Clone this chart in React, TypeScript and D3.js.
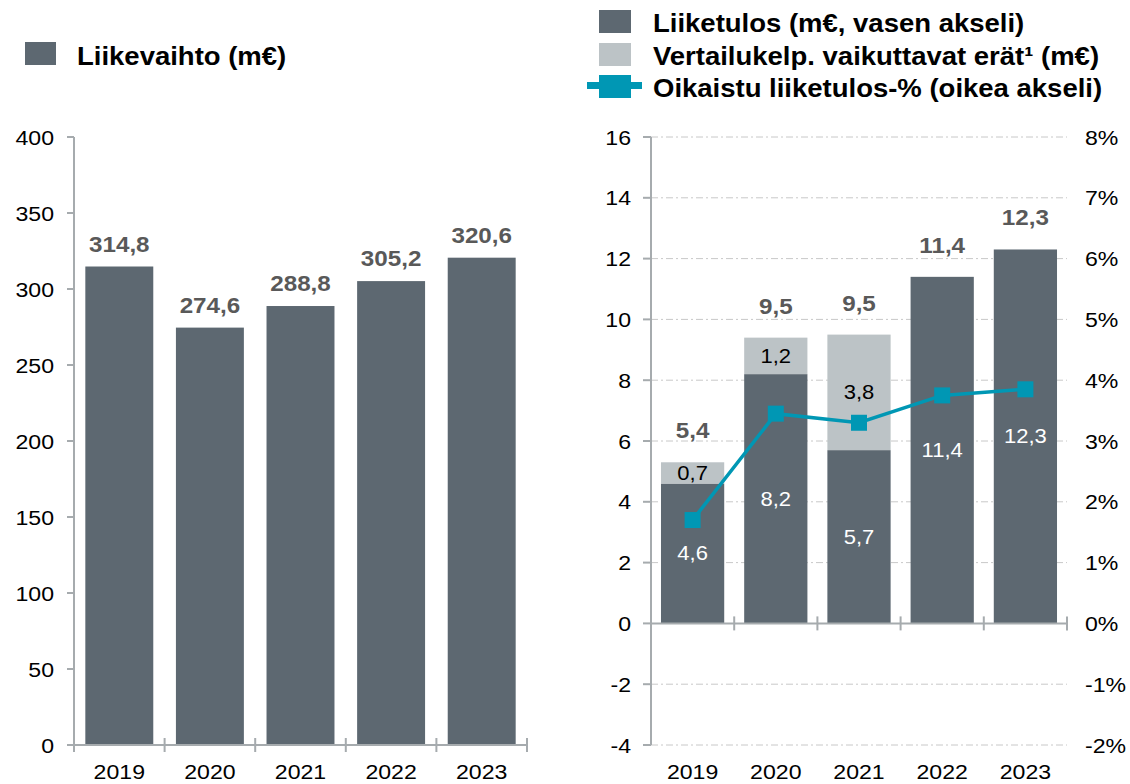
import React from "react";
import * as d3 from "d3";

const years = ["2019", "2020", "2021", "2022", "2023"];
const revenue = [314.8, 274.6, 288.8, 305.2, 320.6];
const operatingProfit = [4.6, 8.2, 5.7, 11.4, 12.3];
const comparabilityItems = [0.7, 1.2, 3.8, 0, 0];
const totalLabels = [5.4, 9.5, 9.5, 11.4, 12.3];
const adjustedPct = [1.7, 3.45, 3.3, 3.75, 3.85];
const leftTicks = [0, 50, 100, 150, 200, 250, 300, 350, 400];
const rightTicks = [-4, -2, 0, 2, 4, 6, 8, 10, 12, 14, 16];
const pctTicks = [-2, -1, 0, 1, 2, 3, 4, 5, 6, 7, 8];

const DARK = "#5d6871";
const LIGHT = "#bcc3c6";
const TEAL = "#0097b4";
const AXIS = "#a6abae";
const GRID = "#c8c8c8";
const LABEL_GRAY = "#595959";
const SX = 1.1;
const FONT = "'Liberation Sans', Arial, Helvetica, sans-serif";

const fmt = (v: number) => d3.format(".1f")(v).replace(".", ",");

function T({ x, y, children, anchor = "middle", size = 21, weight = "normal", fill = "#000" }: any) {
  return (
    <text
      transform={`translate(${x},${y}) scale(${SX},1)`}
      textAnchor={anchor}
      fontSize={size}
      fontWeight={weight}
      fill={fill}
      fontFamily={FONT}
    >
      {children}
    </text>
  );
}

export default function App() {
  // Left chart
  const xL = d3.scaleBand<string>().domain(years).range([74, 527]).paddingInner(0.25).paddingOuter(0.125);
  const yL = d3.scaleLinear().domain([0, 400]).range([745, 137]);
  const stepL = xL.step();
  const boundsL = d3.range(years.length + 1).map((i) => 74 + i * stepL);

  // Right chart
  const xR = d3.scaleBand<string>().domain(years).range([651, 1067]).paddingInner(0.24).paddingOuter(0.12);
  const yR = d3.scaleLinear().domain([-4, 16]).range([745, 137]);
  const yP = d3.scaleLinear().domain([-2, 8]).range([745, 137]);
  const stepR = xR.step();
  const boundsR = d3.range(years.length + 1).map((i) => 651 + i * stepR);

  const line = d3
    .line<number>()
    .x((_, i) => (xR(years[i]) as number) + xR.bandwidth() / 2)
    .y((d) => yP(d));

  return (
    <svg width={1130} height={784} style={{ position: "absolute", left: 0, top: 0, background: "#fff" }}>
      {/* Left legend */}
      <rect x={25} y={42} width={31} height={23} fill={DARK} />
      <T x={77} y={65} anchor="start" size={25} weight="bold">Liikevaihto (m€)</T>

      {/* Right legend */}
      <rect x={599} y={10} width={32} height={23} fill={DARK} />
      <T x={653} y={32} anchor="start" size={25} weight="bold">Liiketulos (m€, vasen akseli)</T>
      <rect x={599} y={43} width={32} height={23} fill={LIGHT} />
      <T x={653} y={65} anchor="start" size={25} weight="bold">
        Vertailukelp. vaikuttavat erät¹ (m€)
      </T>
      <rect x={587} y={82} width={55} height={7} fill={TEAL} />
      <rect x={599} y={75} width={32} height={23} fill={TEAL} />
      <T x={653} y={97} anchor="start" size={25} weight="bold">Oikaistu liiketulos-% (oikea akseli)</T>

      {/* Left chart bars */}
      {revenue.map((v, i) => (
        <rect key={"lb" + i} x={xL(years[i])} y={yL(v)} width={xL.bandwidth()} height={yL(0) - yL(v)} fill={DARK} />
      ))}
      {revenue.map((v, i) => (
        <T key={"ll" + i} x={(xL(years[i]) as number) + xL.bandwidth() / 2} y={yL(v) - 15} size={22} weight="bold" fill={LABEL_GRAY}>
          {fmt(v)}
        </T>
      ))}
      {/* Left axes */}
      <line x1={74} x2={74} y1={yL(400)} y2={yL(0)} stroke={AXIS} strokeWidth={2} />
      <line x1={74} x2={boundsL[boundsL.length - 1]} y1={yL(0)} y2={yL(0)} stroke={AXIS} strokeWidth={2} />
      {leftTicks.map((t) => (
        <g key={"lt" + t}>
          <line x1={67} x2={74} y1={yL(t)} y2={yL(t)} stroke={AXIS} strokeWidth={2} />
          <T x={54} y={yL(t) + 7.5} anchor="end">{t}</T>
        </g>
      ))}
      {boundsL.map((b, i) => (
        <line key={"lx" + i} x1={b} x2={b} y1={yL(0) - 7} y2={yL(0) + 7} stroke={AXIS} strokeWidth={2} />
      ))}
      {years.map((yr) => (
        <T key={"ly" + yr} x={(xL(yr) as number) + xL.bandwidth() / 2} y={779}>{yr}</T>
      ))}

      {/* Right chart gridlines */}
      {rightTicks.filter((t) => t !== 0).map((t) => (
        <line key={"rg" + t} x1={651} x2={1067} y1={yR(t)} y2={yR(t)} stroke={GRID} strokeWidth={1} strokeDasharray="7 3 2 3" />
      ))}

      {/* Right chart stacked bars */}
      {operatingProfit.map((v, i) => (
        <rect key={"rd" + i} x={xR(years[i])} y={yR(v)} width={xR.bandwidth()} height={yR(0) - yR(v)} fill={DARK} />
      ))}
      {comparabilityItems.map((v, i) =>
        v > 0 ? (
          <rect
            key={"rl" + i}
            x={xR(years[i])}
            y={yR(operatingProfit[i] + v)}
            width={xR.bandwidth()}
            height={yR(operatingProfit[i]) - yR(operatingProfit[i] + v)}
            fill={LIGHT}
          />
        ) : null
      )}
      {operatingProfit.map((v, i) => (
        <T key={"rdl" + i} x={(xR(years[i]) as number) + xR.bandwidth() / 2} y={(yR(v) + yR(0)) / 2 + 7} size={20} fill="#fff">
          {fmt(v)}
        </T>
      ))}
      {comparabilityItems.map((v, i) =>
        v > 0 ? (
          <T
            key={"rll" + i}
            x={(xR(years[i]) as number) + xR.bandwidth() / 2}
            y={(yR(operatingProfit[i]) + yR(operatingProfit[i] + v)) / 2 + 7}
            size={20}
          >
            {fmt(v)}
          </T>
        ) : null
      )}
      {totalLabels.map((v, i) => (
        <T
          key={"rt" + i}
          x={(xR(years[i]) as number) + xR.bandwidth() / 2}
          y={yR(operatingProfit[i] + comparabilityItems[i]) - 24}
          size={22}
          weight="bold"
          fill={LABEL_GRAY}
        >
          {fmt(v)}
        </T>
      ))}

      {/* Right axes */}
      <line x1={651} x2={651} y1={yR(16)} y2={yR(-4)} stroke={AXIS} strokeWidth={2} />
      <line x1={651} x2={boundsR[boundsR.length - 1]} y1={yR(0)} y2={yR(0)} stroke={AXIS} strokeWidth={2} />
      {rightTicks.map((t) => (
        <g key={"rtk" + t}>
          <line x1={643} x2={651} y1={yR(t)} y2={yR(t)} stroke={AXIS} strokeWidth={2} />
          <T x={631} y={yR(t) + 7.5} anchor="end">{t}</T>
        </g>
      ))}
      {pctTicks.map((t) => (
        <T key={"pt" + t} x={1085} y={yP(t) + 7.5} anchor="start">{t + "%"}</T>
      ))}
      {boundsR.map((b, i) => (
        <line key={"rx" + i} x1={b} x2={b} y1={yR(0) - 7} y2={yR(0) + 7} stroke={AXIS} strokeWidth={2} />
      ))}
      {years.map((yr) => (
        <T key={"ry" + yr} x={(xR(yr) as number) + xR.bandwidth() / 2} y={779}>{yr}</T>
      ))}

      {/* Adjusted % line */}
      <path d={line(adjustedPct) as string} fill="none" stroke={TEAL} strokeWidth={3.5} />
      {adjustedPct.map((p, i) => (
        <rect
          key={"pm" + i}
          x={(xR(years[i]) as number) + xR.bandwidth() / 2 - 8}
          y={yP(p) - 8}
          width={16}
          height={16}
          fill={TEAL}
        />
      ))}
    </svg>
  );
}
